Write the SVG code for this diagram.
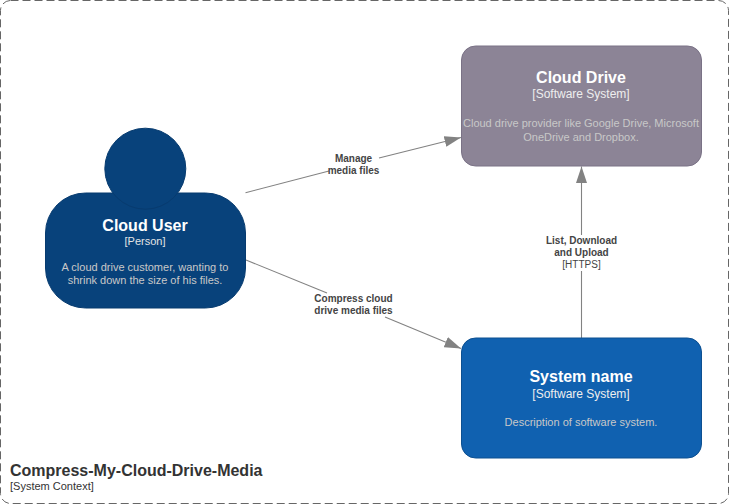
<svg xmlns="http://www.w3.org/2000/svg" width="729" height="504" viewBox="0 0 729 504">
<style>
text{font-family:"Liberation Sans",Arial,sans-serif;text-anchor:middle}
.t{font-size:16px;font-weight:bold;fill:#fff}
.s{font-size:12px;fill:#eee}
.p{font-size:11px;fill:#e4e4e4}
.d{font-size:11px;fill:#c8c8c8}
.l{font-size:10px;font-weight:bold;fill:#444}
.lt{font-size:10px;fill:#444}
.c{stroke:#828282;stroke-width:1.1;fill:none}
</style>
<defs><marker id="a" markerUnits="userSpaceOnUse" markerWidth="18" markerHeight="12" refX="16.500" refY="6" orient="auto"><path d="M0 0.500L16.500 6L0 11.500Z" fill="#828282"/></marker></defs>
<rect id="boundary" x="0.500" y="0.500" width="728" height="503" rx="10" fill="#fff" stroke="#666" stroke-dasharray="8 4"/>
<g id="connectors">
<path class="c" d="M245.500 192.700L329 171"/><path class="c" d="M379 158L461 137.500" marker-end="url(#a)"/>
<path class="c" d="M246 260L327 293"/><path class="c" d="M385 317L461 348.500" marker-end="url(#a)"/>
<path class="c" d="M581.500 235V166.500" marker-end="url(#a)"/><path class="c" d="M581.500 338V271"/>
</g>
<g id="label-manage"><text class="l" x="353.500" y="162">Manage</text><text class="l" x="353.500" y="174">media files</text></g>
<g id="label-compress"><text class="l" x="353.500" y="302">Compress cloud</text><text class="l" x="353.500" y="314">drive media files</text></g>
<g id="label-list"><text class="l" x="581.500" y="244">List, Download</text><text class="l" x="581.500" y="256">and Upload</text><text class="lt" x="581.500" y="268">[HTTPS]</text></g>
<g id="cloud-user">
<rect x="45.500" y="193" width="200" height="115" rx="40" fill="#08427b" stroke="#073b6f"/>
<circle cx="145.300" cy="168.700" r="40.500" fill="#08427b" stroke="#073b6f"/>
<text class="t" x="145" y="231">Cloud User</text><text class="p" x="145" y="245">[Person]</text>
<text class="d" x="145" y="271">A cloud drive customer, wanting to</text><text class="d" x="145" y="284">shrink down the size of his files.</text>
</g>
<g id="cloud-drive">
<rect x="461.500" y="46" width="240" height="120" rx="14" fill="#8c8496" stroke="#7a7286"/>
<text class="t" x="581" y="83">Cloud Drive</text><text class="s" x="581" y="98">[Software System]</text>
<text class="d" x="581" y="127">Cloud drive provider like Google Drive, Microsoft</text><text class="d" x="581" y="141">OneDrive and Dropbox.</text>
</g>
<g id="system-name">
<rect x="461.500" y="338" width="240" height="120" rx="14" fill="#1061b0" stroke="#0d5091"/>
<text class="t" x="581" y="382">System name</text><text class="s" x="581" y="398">[Software System]</text>
<text class="d" x="581" y="426">Description of software system.</text>
</g>
<g id="title"><text x="10" y="476" style="text-anchor:start;font-size:16px;font-weight:bold;fill:#333">Compress-My-Cloud-Drive-Media</text><text x="10" y="490" style="text-anchor:start;font-size:11px;fill:#333">[System Context]</text></g>
</svg>
